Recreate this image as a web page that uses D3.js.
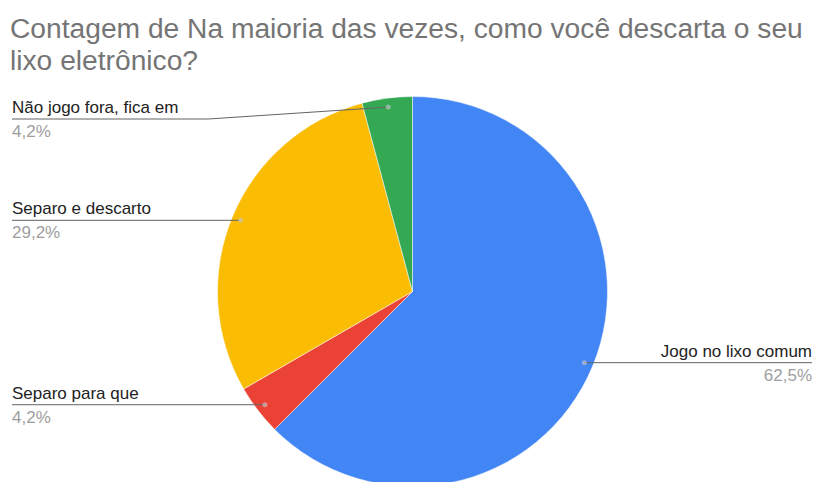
<!DOCTYPE html>
<html>
<head>
<meta charset="utf-8">
<script src="https://cdn.jsdelivr.net/npm/d3@7"></script>
<style>
  body { margin: 0; background: #fff; }
  text { font-family: "Liberation Sans", Arial, sans-serif; }
</style>
</head>
<body>
<script>
var titleLines = ['Contagem de Na maioria das vezes, como você descarta o seu', 'lixo eletrônico?'];
var categories = ['Jogo no lixo comum', 'Separo para que', 'Separo e descarto', 'Não jogo fora, fica em'];
var values = [15, 1, 7, 1];
var percentLabels = ['62,5%', '4,2%', '29,2%', '4,2%'];
var colors = ['#4285f4', '#ea4335', '#fbbc04', '#34a853'];

var W = 814, H = 482;
var cx = 412.5, cy = 291.5, R = 195, dotR = 186;

var svg = d3.select('body').append('svg').attr('width', W).attr('height', H);

svg.selectAll('text.title').data(titleLines).enter().append('text')
  .attr('class', 'title')
  .attr('x', 10).attr('y', function(d, i) { return 38 + i * 32; })
  .style('font-size', '28.2px').style('fill', '#757575')
  .text(function(d) { return d; });

var pie = d3.pie().sort(null).value(function(d) { return d; });
var arcs = pie(values);
var arc = d3.arc().innerRadius(0).outerRadius(R);
var dotArc = d3.arc().innerRadius(dotR).outerRadius(dotR);

var g = svg.append('g').attr('transform', 'translate(' + cx + ',' + cy + ')');
g.selectAll('path').data(arcs).enter().append('path')
  .attr('d', arc)
  .style('fill', function(d, i) { return colors[i]; })
  .style('stroke', '#fff').style('stroke-width', 0.5);

var labels = svg.append('g');
arcs.forEach(function(a, i) {
  var c = dotArc.centroid(a);
  var px = cx + c[0], py = cy + c[1];
  var right = px > cx;
  var ly = Math.max(py, 119);
  var lg = labels.append('g');
  var t = lg.append('text')
    .attr('x', right ? 812 : 12).attr('y', ly - 6)
    .attr('text-anchor', right ? 'end' : 'start')
    .style('font-size', '17px').style('fill', '#222')
    .text(categories[i]);
  lg.append('text')
    .attr('x', right ? 812 : 12).attr('y', ly + 18)
    .attr('text-anchor', right ? 'end' : 'start')
    .style('font-size', '17px').style('fill', '#9e9e9e')
    .text(percentLabels[i]);
  var pts;
  if (right) {
    pts = [[px, py], [812, ly]];
  } else if (ly !== py) {
    var bend = 12 + t.node().getComputedTextLength() + 30;
    pts = [[12, ly], [bend, ly], [px, py]];
  } else {
    pts = [[12, ly], [px, py]];
  }
  lg.append('path')
    .attr('d', d3.line()(pts))
    .style('fill', 'none').style('stroke', '#636363').style('stroke-width', 1);
  lg.append('circle')
    .attr('cx', px).attr('cy', py).attr('r', 2.5)
    .style('fill', '#ccc').style('opacity', 0.6);
});
</script>
</body>
</html>
